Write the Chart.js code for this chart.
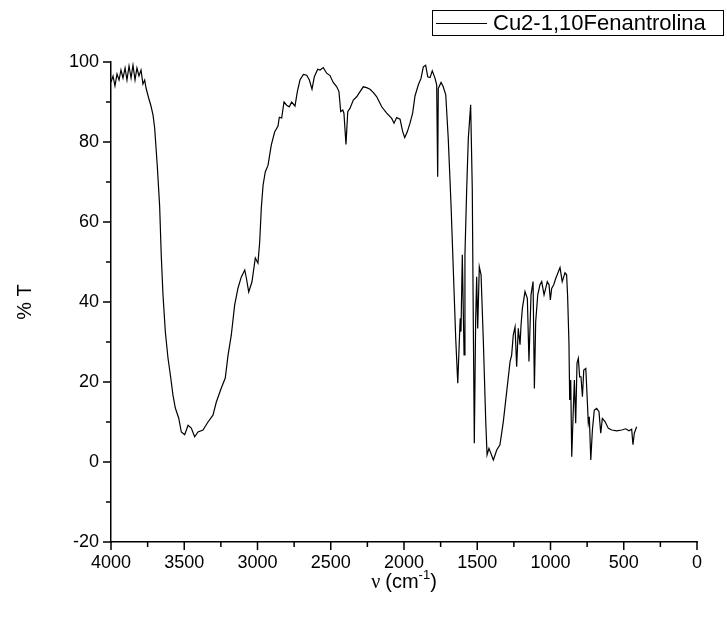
<!DOCTYPE html>
<html lang="es">
<head>
<meta charset="UTF-8">
<title>Espectro IR Cu2-1,10Fenantrolina</title>
<script src="https://cdn.jsdelivr.net/npm/chart.js"></script>
<style>
    body { margin: 0; background: #fff; }
    #wrap { width: 727px; height: 622px; }
</style>
</head>
<body>
<div id="wrap"><canvas id="irChart" width="727" height="622"></canvas></div>
<script>
    const serieNombre = 'Cu2-1,10Fenantrolina';

    const numeroOnda = [
        4000, 3986, 3973, 3959, 3945, 3932, 3918, 3904, 3891, 3877, 3863, 3850, 3836, 3823, 3809, 3795,
        3782, 3770, 3761, 3743, 3727, 3713, 3702, 3684, 3668, 3657, 3645, 3629, 3611, 3592, 3577, 3561,
        3538, 3520, 3497, 3474, 3452, 3429, 3406, 3372, 3338, 3304, 3281, 3247, 3220, 3201, 3179, 3156,
        3133, 3111, 3087, 3076, 3060, 3038, 3015, 2997, 2985, 2974, 2962, 2947, 2928, 2906, 2883, 2860,
        2851, 2835, 2819, 2801, 2783, 2767, 2744, 2728, 2710, 2687, 2664, 2646, 2628, 2612, 2589, 2573,
        2551, 2528, 2505, 2483, 2459, 2444, 2432, 2418, 2410, 2396, 2384, 2369, 2346, 2323, 2300, 2278,
        2255, 2232, 2210, 2186, 2152, 2118, 2084, 2068, 2050, 2027, 2009, 1995, 1977, 1959, 1941, 1925,
        1902, 1884, 1868, 1852, 1838, 1822, 1807, 1788, 1777, 1770, 1766, 1747, 1732, 1715, 1698, 1679,
        1663, 1647, 1633, 1620, 1616, 1611, 1602, 1590, 1584, 1572, 1561, 1545, 1534, 1527, 1520, 1511,
        1504, 1497, 1486, 1474, 1459, 1442, 1433, 1420, 1390, 1367, 1345, 1322, 1299, 1276, 1265, 1254,
        1242, 1231, 1220, 1208, 1201, 1192, 1174, 1158, 1147, 1133, 1119, 1110, 1101, 1087, 1072, 1060,
        1044, 1033, 1022, 1010, 1001, 992, 978, 965, 947, 935, 920, 901, 890, 883, 874, 869,
        862, 855, 846, 837, 828, 819, 810, 801, 792, 782, 773, 759, 748, 742, 735, 725,
        714, 701, 685, 669, 657, 646, 628, 605, 582, 548, 514, 487, 464, 446, 437, 428,
        412
    ];
    const transmitancia = [
        95, 96.5, 94, 97, 95.5, 98, 96, 98.5, 95.5, 99, 96, 99.2, 95.5, 98.5, 96.5, 98,
        94.5, 95.5, 93.5, 91, 89, 86.7, 83.5, 74, 64, 51.7, 41.7, 32.5, 26, 21, 16.7, 13.5,
        11, 7.5, 6.8, 9.2, 8.5, 6.3, 7.5, 8, 10, 11.7, 15, 18.5, 21, 26.7, 31.7, 39.2,
        43.5, 46.2, 48, 46, 42.5, 45, 51, 49.7, 55, 63.5, 69.2, 72.5, 74.2, 79.2, 82.5, 84,
        86.2, 86, 90, 89.2, 88.8, 90, 89, 92.6, 95.5, 96.9, 96.7, 95.5, 93.2, 96.3, 98.2, 98,
        98.6, 97.2, 96.6, 94.9, 93.8, 92.6, 87.6, 88, 87.2, 79.4, 87.6, 88.4, 90.5, 91.3, 92.6, 93.8,
        93.6, 93.2, 92.4, 91.3, 88.8, 87.2, 85.9, 84.7, 86.1, 85.7, 82.6, 81.1, 82.6, 84.7, 87.2, 91.5,
        94.3, 95.9, 98.8, 99.2, 96.3, 96.1, 97.8, 95.9, 94.3, 71.3, 93.4, 94.9, 93.8, 91.8, 80.9, 64.3,
        47.6, 30.9, 19.7, 32.6, 35.9, 32.6, 51.8, 26.8, 51.8, 68.4, 80.9, 89.3, 68.4, 35.1, 4.7, 35.1,
        46.3, 33.4, 48.8, 46.8, 30.9, 10.1, 1.8, 3.4, 0.5, 3, 4.3, 10.1, 17.6, 25.1, 26.8, 31.8,
        33.8, 23.8, 33.4, 29.3, 34.3, 38.4, 42.6, 40.9, 25.1, 41.8, 45.1, 18.4, 35.1, 41.8, 44.3, 45.1,
        41.8, 43.4, 45.1, 44.3, 40.5, 43.4, 44.3, 45.8, 47.5, 48.6, 45.1, 47.3, 46.8, 41.3, 29.7, 15.5,
        20.5, 1.3, 11.3, 20.5, 9.7, 24.7, 25.9, 21.3, 21.3, 16.3, 23, 23.4, 14.7, 9.7, 11.3, 0.5,
        8, 13, 13.4, 12.6, 7.2, 10.9, 10.1, 8.4, 8, 7.8, 8, 8.3, 7.8, 8.2, 4.3, 7.2,
        8.8
    ];

    const ticksX = [4000, 3500, 3000, 2500, 2000, 1500, 1000, 500, 0];
    const ticksY = [-20, 0, 20, 40, 60, 80, 100];

    const fuente = "'Liberation Sans', Arial, sans-serif";

    // ticks menores, titulos de ejes y leyenda
    const ejesPlugin = {
        id: 'ejes',
        afterDraw(chart) {
            const { ctx, chartArea: a, scales: { x, y } } = chart;
            ctx.save();
            ctx.strokeStyle = '#000';
            ctx.lineWidth = 1.5;
            ctx.beginPath();
            for (let i = 0; i < ticksX.length; i++) {
                const px = x.getPixelForValue(ticksX[i]);
                ctx.moveTo(px, a.bottom);
                ctx.lineTo(px, a.bottom + 8);
                if (i < ticksX.length - 1) {
                    const pm = x.getPixelForValue((ticksX[i] + ticksX[i + 1]) / 2);
                    ctx.moveTo(pm, a.bottom);
                    ctx.lineTo(pm, a.bottom + 5);
                }
            }
            for (let i = 0; i < ticksY.length; i++) {
                const py = y.getPixelForValue(ticksY[i]);
                ctx.moveTo(a.left, py);
                ctx.lineTo(a.left - 8, py);
                if (i < ticksY.length - 1) {
                    const pm = y.getPixelForValue((ticksY[i] + ticksY[i + 1]) / 2);
                    ctx.moveTo(a.left, pm);
                    ctx.lineTo(a.left - 5, pm);
                }
            }
            ctx.stroke();

            ctx.fillStyle = '#000';
            // titulo eje Y
            ctx.save();
            ctx.translate(25, (a.top + a.bottom) / 2);
            ctx.rotate(-Math.PI / 2);
            ctx.font = '20px ' + fuente;
            ctx.textAlign = 'center';
            ctx.textBaseline = 'middle';
            ctx.fillText('% T', 0, 0);
            ctx.restore();

            // titulo eje X: ν (cm-1)
            const partes = [
                { t: 'ν ', f: "20px 'Liberation Serif', 'Times New Roman', serif", dy: 0 },
                { t: '(cm', f: '20px ' + fuente, dy: 0 },
                { t: '-1', f: '13px ' + fuente, dy: -9 },
                { t: ')', f: '20px ' + fuente, dy: 0 }
            ];
            let total = 0;
            partes.forEach(p => { ctx.font = p.f; p.w = ctx.measureText(p.t).width; total += p.w; });
            let cx = (a.left + a.right) / 2 - total / 2;
            ctx.textAlign = 'left';
            ctx.textBaseline = 'alphabetic';
            partes.forEach(p => {
                ctx.font = p.f;
                ctx.fillText(p.t, cx, 588 + p.dy);
                cx += p.w;
            });

            // leyenda
            ctx.lineWidth = 1;
            ctx.strokeRect(432.5, 10.5, 291, 25);
            ctx.beginPath();
            ctx.moveTo(436, 23.5);
            ctx.lineTo(487, 23.5);
            ctx.stroke();
            ctx.font = '22px ' + fuente;
            ctx.textBaseline = 'middle';
            ctx.fillText(serieNombre, 493, 24);
            ctx.restore();
        }
    };

    const ctx = document.getElementById('irChart').getContext('2d');
    new Chart(ctx, {
        type: 'line',
        data: {
            datasets: [{
                label: serieNombre,
                data: numeroOnda.map((v, i) => ({ x: v, y: transmitancia[i] })),
                borderColor: '#000',
                borderWidth: 1.2,
                pointRadius: 0,
                tension: 0,
                fill: false
            }]
        },
        options: {
            responsive: false,
            animation: false,
            layout: { padding: { top: 62, right: 30, left: 0, bottom: 0 } },
            plugins: {
                legend: { display: false },
                tooltip: { enabled: false }
            },
            scales: {
                x: {
                    type: 'linear',
                    reverse: true,
                    min: 0,
                    max: 4000,
                    afterBuildTicks: s => { s.ticks = ticksX.map(v => ({ value: v })); },
                    afterFit: s => { s.height = 80; },
                    grid: { display: false, drawTicks: false },
                    border: { display: true, color: '#000', width: 1.5 },
                    ticks: {
                        color: '#000',
                        font: { family: fuente, size: 18 },
                        padding: 10,
                        maxRotation: 0,
                        autoSkip: false,
                        callback: v => String(v)
                    }
                },
                y: {
                    min: -20,
                    max: 100,
                    afterBuildTicks: s => { s.ticks = ticksY.map(v => ({ value: v })); },
                    afterFit: s => { s.width = 111; },
                    grid: { display: false, drawTicks: false },
                    border: { display: true, color: '#000', width: 1.5 },
                    ticks: {
                        color: '#000',
                        font: { family: fuente, size: 18 },
                        padding: 12,
                        callback: v => String(v)
                    }
                }
            }
        },
        plugins: [ejesPlugin]
    });
</script>
</body>
</html>
